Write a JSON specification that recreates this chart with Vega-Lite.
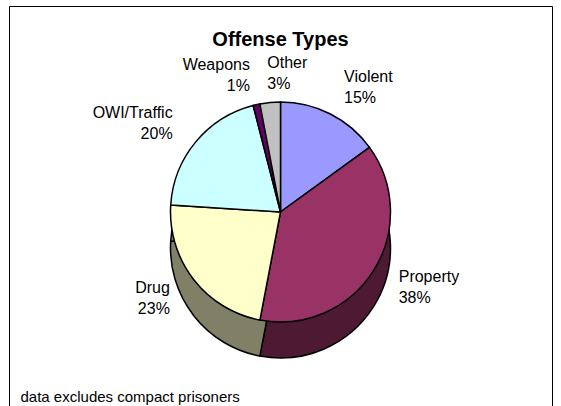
{
  "$schema": "https://vega.github.io/schema/vega-lite/v6.json",
  "width": 543,
  "height": 402,
  "autosize": {"type": "none"},
  "padding": {"left": 9, "top": 6, "right": 9, "bottom": 0},
  "background": "white",
  "title": {"text": "Offense Types", "fontSize": 20, "fontWeight": "bold", "font": "Liberation Sans", "color": "black", "anchor": "middle", "offset": -44},
  "data": {"values": [
    {"category": "Violent", "value": 15, "rank": 1},
    {"category": "Property", "value": 38, "rank": 2},
    {"category": "Drug", "value": 23, "rank": 3},
    {"category": "OWI/Traffic", "value": 20, "rank": 4},
    {"category": "Weapons", "value": 1, "rank": 5},
    {"category": "Other", "value": 3, "rank": 6}
  ]},
  "transform": [{"calculate": "[datum.category, datum.value + '%']", "as": "label"}],
  "layer": [
    {
      "mark": {"type": "arc", "radius": 110, "yOffset": 41, "stroke": "black", "strokeWidth": 1.5},
      "encoding": {
        "theta": {"field": "value", "type": "quantitative", "stack": true},
        "order": {"field": "rank", "type": "quantitative"},
        "color": {"field": "category", "type": "nominal", "legend": null,
          "scale": {"domain": ["Violent", "Property", "Drug", "OWI/Traffic", "Weapons", "Other"],
                    "range": ["#4d4d80", "#4d1933", "#808066", "#668080", "#330033", "#606060"]}}
      }
    },
    {
      "mark": {"type": "arc", "radius": 110, "yOffset": 5, "stroke": "black", "strokeWidth": 1.5},
      "encoding": {
        "theta": {"field": "value", "type": "quantitative", "stack": true},
        "order": {"field": "rank", "type": "quantitative"},
        "color": {"field": "category", "type": "nominal", "legend": null,
          "scale": {"domain": ["Violent", "Property", "Drug", "OWI/Traffic", "Weapons", "Other"],
                    "range": ["#9999ff", "#993366", "#ffffcc", "#ccffff", "#660066", "#c0c0c0"]}}
      }
    },
    {
      "mark": {"type": "text", "radius": 140, "yOffset": 5, "dy": -10, "fontSize": 16, "lineHeight": 21, "baseline": "middle", "font": "Liberation Sans", "color": "black",
               "align": {"expr": "(datum.category == 'Violent' || datum.category == 'Property' || datum.category == 'Other') ? 'left' : 'right'"}},
      "encoding": {
        "theta": {"field": "value", "type": "quantitative", "stack": true},
        "order": {"field": "rank", "type": "quantitative"},
        "text": {"field": "label", "type": "nominal"}
      }
    },
    {
      "mark": {"type": "point", "opacity": 0},
      "encoding": {
        "x": {"field": "value", "type": "quantitative",
          "axis": {"domain": false, "ticks": false, "labels": false, "grid": false,
                   "title": "data excludes compact prisoners", "titleX": 11, "titleY": -7,
                   "titleAlign": "left", "titleBaseline": "alphabetic", "titleFont": "Liberation Sans",
                   "titleFontSize": 15, "titleFontWeight": "normal", "titleColor": "black"}}
      }
    }
  ],
  "resolve": {"scale": {"color": "independent"}},
  "config": {"view": {"stroke": "black", "strokeWidth": 1}, "font": "Liberation Sans"}
}
